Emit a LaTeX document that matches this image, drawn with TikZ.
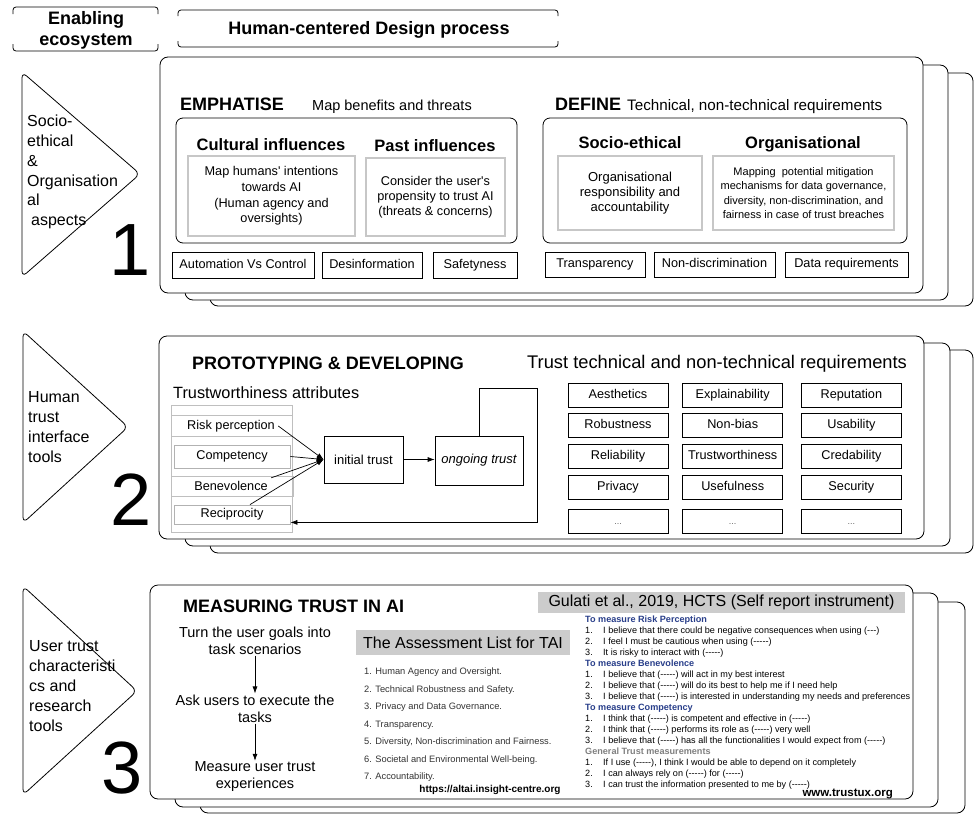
\documentclass[tikz,border=0pt]{standalone}
\usepackage{fontspec}
\setmainfont{Liberation Sans}
\usetikzlibrary{positioning, arrows.meta}

\definecolor{qblue}{RGB}{40,62,138}
\definecolor{shade}{RGB}{204,204,204}
\newcommand{\fsz}[2]{\fontsize{#1}{#2}\selectfont}
\newcommand{\blank}{(-{}-{}-{}-{}-)}
\newcommand{\num}[1]{\makebox[18pt][l]{#1.}}

\tikzset{
  sheet/.style={draw, fill=white, rounded corners=8pt, line width=0.8pt},
  panel/.style={draw, rounded corners=7pt, line width=0.8pt},
  wedge/.style={draw, rounded corners=6pt, line width=0.8pt},
  chip/.style={draw, line width=0.7pt, inner sep=0pt, minimum height=26pt, text height=9pt, text depth=3pt, font=\fsz{12.7}{15}},
  softbox/.style={draw=black!22, line width=1.2pt, inner sep=0pt, align=center},
  headline/.style={font=\bfseries\fsz{18}{22}, inner sep=0pt, anchor=base west},
  subline/.style={font=\fsz{14.5}{17}, inner sep=0pt, anchor=base west},
  heading/.style={font=\bfseries\fsz{16.5}{20}, inner sep=0pt, anchor=base},
  sidetext/.style={font=\fsz{16}{19.8}, align=left, anchor=west, inner sep=0pt},
  bignum/.style={font=\fsz{74}{80}, inner sep=0pt},
  reqbox/.style={draw, line width=0.7pt, minimum width=100pt, minimum height=24pt, inner sep=0pt, text height=9pt, text depth=3pt, font=\fsz{12.7}{15}},
  dots/.style={font=\fsz{9}{11}, text=black!60},
  trustbox/.style={draw, line width=0.7pt, inner sep=0pt, font=\fsz{13}{15}},
  attrline/.style={draw=black!25, line width=0.8pt},
  banner/.style={fill=shade, inner sep=0pt, font=\fsz{16}{19}},
  stepnote/.style={font=\fsz{14.5}{17}, align=center, inner sep=1pt},
  flow/.style={-{Latex[length=7pt,width=5pt]}, line width=0.7pt},
}

\begin{document}
\begin{tikzpicture}[x=1pt, y=-1pt]
\useasboundingbox (0,0) rectangle (975,814);

% top tags
\draw[line width=0.8pt, rounded corners=3pt] (13,14) |- (158,7) -- (158,14);
\draw[line width=0.8pt, rounded corners=3pt] (13,44) |- (158,51) -- (158,44);
\node[font=\bfseries\fsz{18}{21}, align=center] (eco) at (86,30) {Enabling\\ecosystem};
\draw[line width=0.8pt, rounded corners=3pt] (178,16) |- (558,10) -- (558,16);
\draw[line width=0.8pt, rounded corners=3pt] (178,41) |- (558,47) -- (558,41);
\node[font=\bfseries\fsz{18}{21}] (hcd) at (369,30) {Human-centered Design process};

% ---- 1
\draw[sheet] (210,73) rectangle (973,306);
\draw[sheet] (185,65) rectangle (948,300);
\draw[sheet] (160,57) rectangle (923,293);
\draw[wedge] (22,72) -- (140,174) -- (22,277) -- cycle;
\node[sidetext] (side1) at (27,172) {Socio-\\ethical\\\&\\Organisation\\al\\\hspace{4pt}aspects};
\node[bignum] (n1) at (130,250) {1};

\node[headline] (emph) at (180,110) {EMPHATISE};
\node[subline] (emphsub) at (312,110) {Map benefits and threats};
\draw[panel] (176,118) rectangle (517,243);
\node[heading] (cult) at (271,150) {Cultural influences};
\node[heading] (past) at (435,151) {Past influences};
\node[softbox, minimum width=167pt, minimum height=80pt, font=\fsz{12.7}{15.8}] (cultbox) at (271.5,196) {Map humans\textquotesingle\ intentions\\towards AI\\(Human agency and\\oversights)};
\node[softbox, minimum width=139pt, minimum height=78pt, font=\fsz{12.7}{15}] (pastbox) at (435.5,197) {Consider the user\textquotesingle s\\propensity to trust AI\\(threats \& concerns)};
\node[chip, minimum width=142pt] (auto) at (243,265) {Automation Vs Control};
\node[chip, minimum width=100pt] (desinf) at (372,265) {Desinformation};
\node[chip, minimum width=84pt] (safe) at (475,265) {Safetyness};

\node[headline] (def) at (555,110) {DEFINE};
\node[subline, font=\fsz{15.2}{18}] (defsub) at (627,110) {Technical, non-technical requirements};
\draw[panel] (543,118) rectangle (907,243);
\node[heading] (socio) at (630,148) {Socio-ethical};
\node[heading] (org) at (803,148) {Organisational};
\node[softbox, minimum width=144pt, minimum height=74pt, font=\fsz{13}{15}] (sociobox) at (630,193) {Organisational\\responsibility and\\accountability};
\node[softbox, minimum width=181pt, minimum height=74pt, font=\fsz{11}{14.5}] (orgbox) at (803.5,193) {Mapping\ \ potential mitigation\\mechanisms for data governance,\\diversity, non-discrimination, and\\fairness in case of trust breaches};
\node[chip, minimum width=100pt, minimum height=25pt] (transp) at (595,264.5) {Transparency};
\node[chip, minimum width=121pt, minimum height=25pt] (nondis) at (714.5,264.5) {Non-discrimination};
\node[chip, minimum width=123pt, minimum height=25pt] (datareq) at (846.5,264.5) {Data requirements};

% ---- 2
\draw[sheet] (210,350) rectangle (973,553);
\draw[sheet] (185,343) rectangle (950,546);
\draw[sheet] (159,336) rectangle (924,539);
\draw[wedge] (23,331) -- (128,427) -- (23,523) -- cycle;
\node[sidetext] (side2) at (28,427) {Human\\trust\\interface\\tools};
\node[bignum] (n2) at (131,500) {2};

\node[headline] (proto) at (192,369) {PROTOTYPING \& DEVELOPING};
\node[headline, font=\fsz{18.3}{22}] (reqtitle) at (527,368) {Trust technical and non-technical requirements};
\node[subline, font=\fsz{16.3}{19}] (attrtitle) at (173,398) {Trustworthiness attributes};

\draw[attrline] (171,405) rectangle (292,532);
\draw[attrline] (171,415) -- (292,415);
\draw[attrline] (171,436) -- (292,436);
\draw[attrline] (171,476) -- (293,476) -- (293,496) -- (171,496);
\node[font=\fsz{12.7}{15}] (risk) at (231,426) {Risk perception};
\node[draw=black!30, line width=0.8pt, minimum width=116pt, minimum height=23pt, inner sep=0pt, font=\fsz{12.7}{15}] (compet) at (232,456.5) {Competency};
\node[font=\fsz{12.7}{15}] (benev) at (231,486) {Benevolence};
\node[draw=black!30, line width=0.8pt, minimum width=116pt, minimum height=19pt, inner sep=0pt, font=\fsz{12.7}{15}] (recip) at (232,514.5) {Reciprocity};

\node[trustbox, minimum width=79pt, minimum height=47pt] (init) at (363.5,459.5) {initial trust};
\node[trustbox, minimum width=88pt, minimum height=49pt, font=\itshape\fsz{13}{15}] (ongo) at (479,460.5) {ongoing trust};
\draw[flow] (risk.east) -- (init.west);
\draw[flow] (compet.east) -- (init.west);
\draw[flow] (benev.north east) -- (init.west);
\draw[flow] ([xshift=18pt]recip.north) -- (init.west);
\draw[flow] (init.east) -- (init.east -| ongo.west);
\coordinate (loop) at (537,388);
\draw[flow] (ongo.north) |- (loop) |- ([yshift=2pt]recip.south east);

\node[reqbox] (aes) at (618,395) {Aesthetics};
\node[reqbox, below=6pt of aes] (rob) {Robustness};
\node[reqbox, below=6pt of rob] (rel) {Reliability};
\node[reqbox, below=6pt of rel] (priv) {Privacy};
\node[reqbox, below=10pt of priv, dots] (more1) {...};
\node[reqbox, right=14pt of aes] (expl) {Explainability};
\node[reqbox, below=6pt of expl] (nonbias) {Non-bias};
\node[reqbox, below=6pt of nonbias] (tw) {Trustworthiness};
\node[reqbox, below=6pt of tw] (useful) {Usefulness};
\node[reqbox, below=10pt of useful, dots] (more2) {...};
\node[reqbox, right=18pt of expl] (rep) {Reputation};
\node[reqbox, below=6pt of rep] (usab) {Usability};
\node[reqbox, below=6pt of usab] (cred) {Credability};
\node[reqbox, below=6pt of cred] (secu) {Security};
\node[reqbox, below=10pt of secu, dots] (more3) {...};

% ---- 3
\draw[sheet] (200,602) rectangle (965,813);
\draw[sheet] (175,593) rectangle (938,807);
\draw[sheet] (150,585) rectangle (913,799);
\draw[wedge] (23,586) -- (137,691) -- (23,795) -- cycle;
\node[sidetext] (side3) at (29,686) {User trust\\characteristi\\cs and\\research\\tools};
\node[bignum] (n3) at (122,768) {3};

\node[headline] (meas) at (183,612) {MEASURING TRUST IN AI};
\node[stepnote] (goal) at (255,640.5) {Turn the user goals into\\task scenarios};
\node[stepnote] (exec) at (255,708.5) {Ask users to execute the\\tasks};
\node[stepnote] (exper) at (255,777) {Measure user trust\\experiences};
\draw[flow] (goal) -- (exec);
\draw[flow] (exec) -- (exper);

\node[banner, minimum width=214pt, minimum height=25pt] (altai) at (463,642.5) {The Assessment List for TAI};
\node[font=\fsz{9.3}{17.5}, text=black!80, align=left, anchor=north west, inner sep=0pt] (altailist) at (364,668) {1. Human Agency and Oversight.\\2. Technical Robustness and Safety.\\3. Privacy and Data Governance.\\4. Transparency.\\5. Diversity, Non-discrimination and Fairness.\\6. Societal and Environmental Well-being.\\7. Accountability.};
\node[font=\bfseries\fsz{10}{12}, anchor=base, inner sep=0pt] (altaiurl) at (490,792) {https://altai.insight-centre.org};

\node[banner, minimum width=367pt, minimum height=21pt] (gulati) at (721.5,602.5) {Gulati et al., 2019, HCTS (Self report instrument)};
\node[font=\fsz{9.1}{11}, align=left, anchor=north west, inner sep=0pt] (hcts) at (585,616) {%
\textcolor{qblue}{\bfseries To measure Risk Perception}\\
\num{1}I believe that there could be negative consequences when using (-{}-{}-)\\
\num{2}I feel I must be cautious when using \blank\\
\num{3}It is risky to interact with \blank\\
\textcolor{qblue}{\bfseries To measure Benevolence}\\
\num{1}I believe that \blank\ will act in my best interest\\
\num{2}I believe that \blank\ will do its best to help me if I need help\\
\num{3}I believe that \blank\ is interested in understanding my needs and preferences\\
\textcolor{qblue}{\bfseries To measure Competency}\\
\num{1}I think that \blank\ is competent and effective in \blank\\
\num{2}I think that \blank\ performs its role as \blank\ very well\\
\num{3}I believe that \blank\ has all the functionalities I would expect from \blank\\
\textcolor{black!50}{\bfseries General Trust measurements}\\
\num{1}If I use \blank, I think I would be able to depend on it completely\\
\num{2}I can always rely on \blank\ for \blank\\
\num{3}I can trust the information presented to me by \blank};
\node[font=\bfseries\fsz{11.5}{14}, anchor=base east, inner sep=0pt] (trustux) at (893,796) {www.trustux.org};
\end{tikzpicture}
\end{document}
